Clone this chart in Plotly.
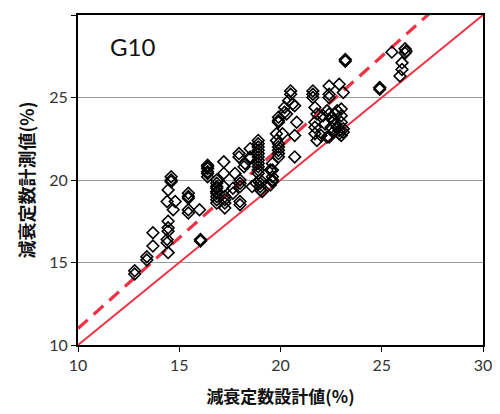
import plotly.graph_objects as go

# design damping (%) vs measured damping (%)
design = [
    12.8, 12.8, 13.4, 13.4, 13.7, 13.7,
    14.45, 14.4, 14.4, 14.45, 14.45, 14.45,
    14.6, 14.6, 14.6, 14.45, 14.4, 14.8, 14.7,
    15.45, 15.45, 15.45, 15.45, 15.45,
    16.0, 16.05, 16.05,
    16.4, 16.4, 16.4, 16.4, 16.4, 16.4,
    16.85, 16.85, 16.85, 16.85, 16.85, 16.85, 16.85, 16.85, 16.85,
    17.2, 17.2, 17.25, 17.25, 17.25, 17.25, 17.2,
    17.65, 17.65, 17.75,
    17.95, 17.95, 18.0, 18.0, 18.0, 18.0, 18.0, 18.25, 18.2,
    18.5, 18.5, 18.5, 18.6, 18.8,
    18.9, 18.9, 18.9, 18.9, 18.9, 18.9, 18.9, 18.9, 18.9, 18.9, 18.9,
    19.0, 19.0, 19.0, 19.0, 19.1,
    19.5, 19.6, 19.6, 19.6, 19.6, 19.5, 19.6,
    19.8, 19.8, 19.9, 19.9, 19.9, 19.9, 19.9,
    19.9, 19.9, 19.9,
    20.1, 20.2, 20.2, 20.3,
    20.5, 20.5, 20.4, 20.6, 20.7,
    20.8, 20.7, 20.7,
    21.6, 21.6, 21.6,
    21.7, 21.8, 21.7, 21.7, 21.7, 21.8, 22.0,
    22.4, 22.4, 22.4,
    22.9, 23.1,
    22.1, 22.3, 22.4, 22.5, 22.6, 22.7, 22.8, 22.8, 22.9, 22.9, 23.0, 23.0, 23.0,
    23.1, 23.1, 22.6, 22.5, 22.3, 22.4, 23.0, 22.7, 22.2,
    23.2, 23.2,
    24.9, 24.9,
    25.5,
    26.15, 26.2, 26.15,
    26.0, 26.0, 25.9,
]
measured = [
    14.5, 14.3, 15.35, 15.15, 16.0, 16.8,
    15.6, 16.4, 16.2, 17.1, 16.9, 17.5,
    20.2, 20.0, 19.9, 19.4, 18.7, 18.7, 18.2,
    19.2, 19.0, 18.9, 18.2, 18.0,
    18.2, 16.3, 16.4,
    20.9, 20.8, 20.7, 20.5, 20.4, 20.2,
    20.0, 19.8, 19.6, 19.5, 19.3, 19.2, 19.0, 18.8, 18.6,
    21.1, 20.4, 19.0, 18.8, 18.6, 18.3, 19.6,
    19.5, 19.2, 20.4,
    21.6, 21.4, 20.0, 19.8, 19.6, 18.7, 18.5, 21.0, 20.8,
    21.9, 21.4, 21.3, 19.6, 19.8,
    22.4, 22.2, 22.0, 21.8, 21.6, 21.4, 21.2, 21.0, 20.8, 20.6, 20.4,
    20.0, 19.8, 19.6, 19.4, 19.3,
    20.6, 21.0, 20.6, 20.2, 20.0, 19.7, 19.9,
    22.8, 22.4, 22.2, 22.0, 21.8, 21.6, 21.4,
    23.8, 23.6, 23.5,
    22.8, 24.4, 24.1, 24.0,
    25.4, 25.2, 24.8, 24.6, 24.5,
    23.5, 22.7, 21.4,
    25.4, 25.2, 25.0,
    24.4, 24.0, 23.5, 23.2, 22.8, 22.4, 22.7,
    25.7, 25.2, 25.0,
    25.8, 25.3,
    23.9, 24.2, 24.0, 23.8, 23.6, 23.4, 24.2, 23.2, 23.0, 22.8, 23.5, 23.9, 24.3,
    23.1, 22.9, 22.9, 23.2, 22.6, 22.6, 22.7, 24.0, 23.4,
    27.3, 27.2,
    25.6, 25.5,
    27.75,
    27.95, 27.8, 27.7,
    27.1, 26.7, 26.3,
]

ref_x = [10, 30]
ratio_solid = 1.0
ratio_dash = 1.1
tick_vals = [10, 15, 20, 25, 30]

RED = "#ee3347"
FONT = "Lato, 'Noto Sans', sans-serif"
CJK = "'Noto Sans CJK JP', 'Noto Sans CJK SC', sans-serif"

fig = go.Figure()
fig.add_trace(go.Scatter(
    x=ref_x, y=[v * ratio_solid for v in ref_x], mode="lines",
    line=dict(color=RED, width=2), hoverinfo="skip", showlegend=False))
fig.add_trace(go.Scatter(
    x=ref_x, y=[v * ratio_dash for v in ref_x], mode="lines",
    line=dict(color=RED, width=3.2, dash="13px,8px"), hoverinfo="skip", showlegend=False))
fig.add_trace(go.Scatter(
    x=design, y=measured, mode="markers",
    marker=dict(symbol="diamond-open", size=9, color="black", line=dict(width=1.6, color="black")),
    showlegend=False))

fig.add_annotation(x=0.073, y=0.905, xref="paper", yref="paper", text="G10",
                   showarrow=False, xanchor="left", yanchor="middle",
                   font=dict(family=FONT, size=24, color="#111"))

fig.update_layout(
    width=492, height=406,
    margin=dict(l=70, r=17, t=7, b=69),
    paper_bgcolor="white", plot_bgcolor="white",
    font=dict(family=FONT, size=16, color="#333"),
)
fig.update_xaxes(
    range=[10, 30], tickvals=tick_vals, showgrid=False, zeroline=False, automargin=False,
    showline=True, linecolor="black", linewidth=1.5, mirror=True,
    ticks="outside", ticklen=5, tickcolor="black",
    tickfont=dict(family=FONT, size=16, color="#333"),
    title=dict(text="減衰定数設計値(%)", font=dict(family=CJK, size=17, color="#111", weight="bold"), standoff=18),
)
fig.update_yaxes(
    range=[10, 30], tickvals=tick_vals, showgrid=True, gridcolor="#999", gridwidth=1.2,
    zeroline=False, automargin=False, showline=True, linecolor="black", linewidth=1.8, mirror=True,
    ticks="outside", ticklen=5, tickcolor="black",
    tickfont=dict(family=FONT, size=16, color="#333"),
    title=dict(text="減衰定数計測値(%)", font=dict(family=CJK, size=18, color="#111", weight="bold"), standoff=10),
)

fig.write_html("out.html")
